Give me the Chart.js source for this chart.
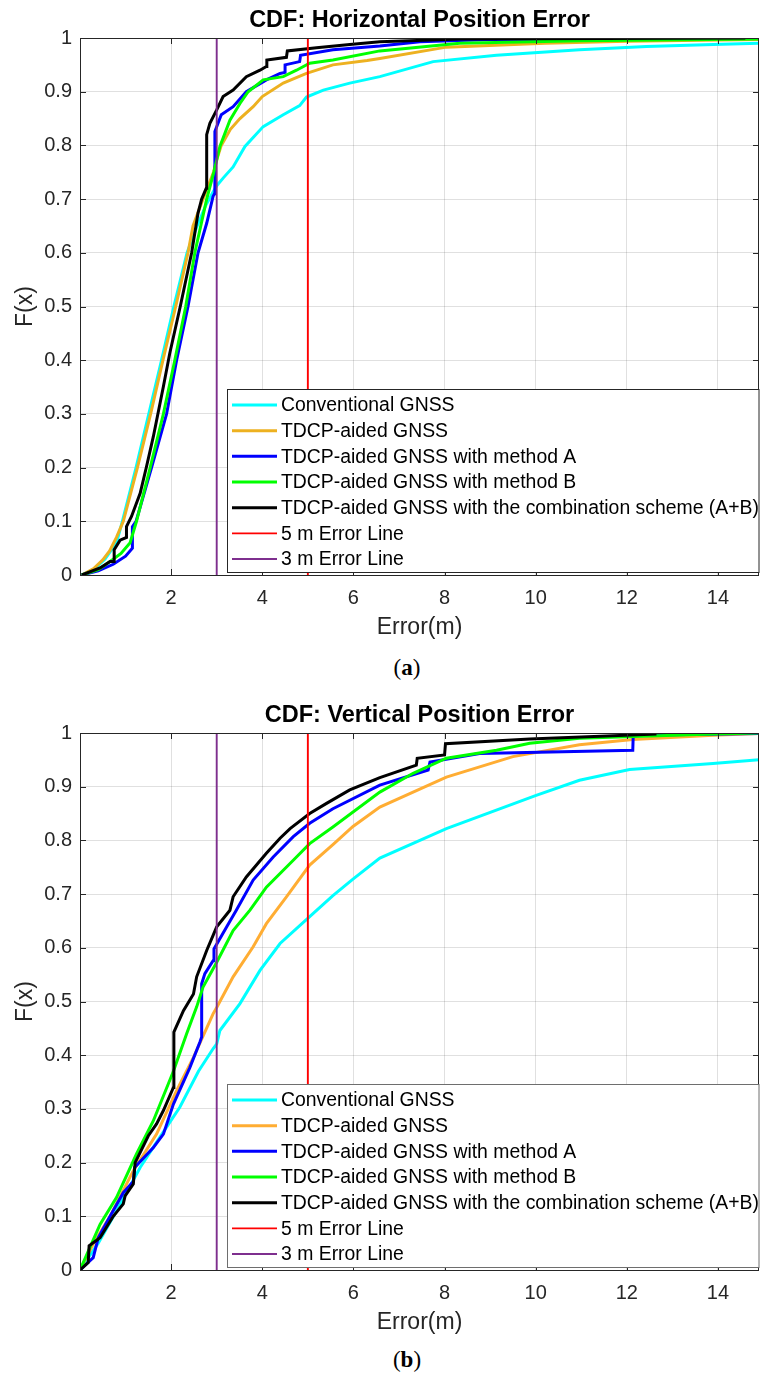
<!DOCTYPE html>
<html>
<head>
<meta charset="utf-8">
<script src="https://cdn.jsdelivr.net/npm/chart.js@4.4.0/dist/chart.umd.min.js"></script>
<style>
  html, body { margin: 0; padding: 0; background: #fff; }
  body { width: 760px; height: 1376px; position: relative; overflow: hidden; }
  .panel { position: absolute; left: 0; width: 760px; height: 650px; }
  .panel canvas { display: block; }
  .caption { position: absolute; left: 367px; width: 80px; text-align: center;
    font-family: "Liberation Serif", "DejaVu Serif", serif; font-size: 23px; line-height: 26px; color: #000; }
</style>
</head>
<body>
<div class="panel" style="top:0"><canvas id="chartH" width="760" height="650"></canvas></div>
<div class="caption" style="top:655px">(<b>a</b>)</div>
<div class="panel" style="top:695px"><canvas id="chartV" width="760" height="650"></canvas></div>
<div class="caption" style="top:1347px">(<b>b</b>)</div>
<script>
// legend text, in plotting order
const legendLabels = [
  "Conventional GNSS",
  "TDCP-aided GNSS",
  "TDCP-aided GNSS with method A",
  "TDCP-aided GNSS with method B",
  "TDCP-aided GNSS with the combination scheme (A+B)",
  "5 m Error Line",
  "3 m Error Line",
];
const errorLineX = [5, 3];
const xTickValues = [2, 4, 6, 8, 10, 12, 14];
const yTickValues = [0, 0.1, 0.2, 0.3, 0.4, 0.5, 0.6, 0.7, 0.8, 0.9, 1];
const xMax = 14.9;

// (a) horizontal error CDF, [error m, F(x)]
const hConventional = [[0.03,0],[0.3,0.01],[0.55,0.03],[0.8,0.06],[0.93,0.1],[1.23,0.2],[1.51,0.3],[1.79,0.4],[2.06,0.5],[2.35,0.6],[2.57,0.65],[2.77,0.69],[2.9,0.71],[3.0,0.725],[3.15,0.74],[3.36,0.76],[3.62,0.798],[4.02,0.835],[4.46,0.857],[4.82,0.874],[4.97,0.89],[5.34,0.903],[5.92,0.916],[6.58,0.928],[7.75,0.956],[9.14,0.968],[10.96,0.978],[12.43,0.984],[13.9,0.988],[14.9,0.99]];
const hTdcp = [[0.04,0],[0.3,0.012],[0.5,0.028],[0.65,0.045],[0.8,0.07],[0.95,0.1],[1.26,0.2],[1.55,0.3],[1.82,0.4],[2.1,0.5],[2.37,0.6],[2.48,0.65],[2.7,0.7],[2.93,0.75],[3.0,0.773],[3.1,0.8],[3.3,0.83],[3.51,0.85],[3.8,0.872],[4.0,0.891],[4.46,0.916],[4.97,0.934],[5.55,0.95],[6.3,0.958],[6.58,0.962],[8.04,0.983],[10.2,0.99],[12,0.994],[14.9,0.997]];
const hMethodA = [[0.04,0],[0.4,0.008],[0.73,0.02],[1.0,0.035],[1.15,0.05],[1.15,0.09],[1.23,0.1],[1.57,0.2],[1.9,0.3],[2.12,0.4],[2.37,0.5],[2.59,0.6],[2.78,0.655],[2.92,0.705],[2.95,0.71],[2.96,0.826],[3.1,0.857],[3.36,0.872],[3.65,0.9],[4.09,0.922],[4.39,0.934],[4.5,0.936],[4.5,0.95],[4.82,0.956],[4.84,0.968],[5.55,0.978],[6.58,0.985],[7.46,0.993],[9,0.997],[13.5,0.999]];
const hMethodB = [[0.04,0],[0.4,0.01],[0.66,0.025],[0.9,0.04],[1.1,0.06],[1.24,0.1],[1.54,0.2],[1.83,0.3],[2.08,0.4],[2.32,0.5],[2.52,0.6],[2.78,0.7],[2.94,0.751],[3.07,0.798],[3.29,0.847],[3.51,0.878],[3.69,0.9],[4.02,0.922],[4.46,0.928],[4.75,0.94],[5.04,0.953],[5.55,0.959],[6.58,0.976],[8.33,0.99],[10.96,0.995],[14.9,0.998]];
const hCombined = [[0.04,0],[0.44,0.013],[0.66,0.025],[0.75,0.025],[0.75,0.047],[0.88,0.065],[1.02,0.07],[1.02,0.09],[1.13,0.109],[1.32,0.152],[1.46,0.202],[1.61,0.258],[1.83,0.351],[1.97,0.413],[2.2,0.5],[2.45,0.6],[2.59,0.674],[2.67,0.7],[2.77,0.72],[2.78,0.82],[2.85,0.841],[3.0,0.866],[3.14,0.891],[3.36,0.903],[3.65,0.928],[3.95,0.94],[4.09,0.947],[4.1,0.959],[4.53,0.964],[4.55,0.976],[5.19,0.982],[5.92,0.988],[6.58,0.993],[8.33,0.998],[14.6,1.0]];

// (b) vertical error CDF
const vConventional = [[0,0],[0.4,0.05],[0.8,0.11],[1.32,0.191],[1.75,0.247],[2.19,0.303],[2.6,0.37],[2.92,0.412],[3.0,0.421],[3.07,0.446],[3.51,0.496],[3.95,0.558],[4.39,0.608],[5.04,0.658],[5.55,0.697],[5.99,0.728],[6.58,0.767],[8.04,0.822],[10.01,0.884],[10.96,0.912],[12.06,0.932],[13.89,0.943],[14.9,0.95]];
const vTdcp = [[0,0],[0.3,0.05],[0.66,0.1],[1.17,0.185],[1.68,0.253],[2.12,0.334],[2.49,0.396],[2.92,0.477],[3.0,0.489],[3.36,0.546],[3.8,0.602],[4.09,0.645],[4.53,0.695],[5.04,0.754],[5.55,0.792],[5.99,0.826],[6.58,0.862],[8.04,0.918],[9.5,0.956],[10.96,0.978],[12.13,0.988],[13.89,0.996],[14.9,0.999]];
const vMethodA = [[0,0],[0.29,0.023],[0.4,0.06],[0.66,0.1],[0.95,0.144],[1.17,0.165],[1.2,0.191],[1.61,0.228],[1.83,0.253],[2.05,0.309],[2.41,0.377],[2.63,0.424],[2.67,0.434],[2.67,0.533],[2.74,0.552],[2.92,0.576],[2.94,0.598],[3.22,0.639],[3.43,0.67],[3.8,0.726],[4.24,0.769],[4.68,0.807],[5.04,0.832],[5.55,0.859],[6.58,0.903],[7.64,0.931],[7.68,0.946],[8.77,0.962],[12.13,0.968],[12.14,0.996],[14.9,0.999]];
const vMethodB = [[0,0],[0.44,0.085],[0.8,0.135],[1.24,0.216],[1.61,0.278],[2.05,0.37],[2.34,0.44],[2.56,0.49],[2.7,0.527],[3.0,0.573],[3.36,0.632],[3.73,0.67],[4.09,0.713],[4.68,0.763],[5.04,0.794],[5.55,0.825],[6.58,0.89],[7.31,0.925],[8.04,0.953],[9.14,0.968],[9.87,0.981],[10.96,0.99],[13.89,0.998],[14.9,1.0]];
const vCombined = [[0,0],[0.18,0.014],[0.2,0.045],[0.44,0.06],[0.73,0.1],[0.95,0.123],[0.99,0.138],[1.17,0.16],[1.21,0.2],[1.5,0.25],[1.68,0.272],[1.83,0.297],[2.05,0.34],[2.06,0.443],[2.27,0.483],[2.49,0.514],[2.56,0.546],[2.78,0.595],[3.0,0.639],[3.29,0.67],[3.36,0.695],[3.65,0.732],[4.09,0.776],[4.39,0.804],[4.61,0.822],[5.04,0.85],[5.41,0.869],[5.92,0.894],[6.58,0.917],[7.38,0.94],[7.4,0.953],[8.0,0.959],[8.02,0.98],[9.87,0.989],[12.65,0.998]];

Chart.defaults.font.family = '"Liberation Sans", Arial, sans-serif';
Chart.defaults.color = "#262626";

const frameAndLegend = {
  id: "frameAndLegend",
  afterDatasetsDraw(chart, args, opts) {
    const { ctx, chartArea: a, scales: { x, y } } = chart;
    ctx.save();
    ctx.strokeStyle = "#262626";
    ctx.lineWidth = 1;
    ctx.beginPath();
    x.ticks.forEach((t) => {
      const px = Math.round(x.getPixelForValue(t.value)) + 0.5;
      ctx.moveTo(px, a.bottom); ctx.lineTo(px, a.bottom - 6);
      ctx.moveTo(px, a.top); ctx.lineTo(px, a.top + 6);
    });
    y.ticks.forEach((t) => {
      const py = Math.round(y.getPixelForValue(t.value)) + 0.5;
      ctx.moveTo(a.left, py); ctx.lineTo(a.left + 6, py);
      ctx.moveTo(a.right, py); ctx.lineTo(a.right - 6, py);
    });
    ctx.stroke();
    ctx.strokeRect(Math.round(a.left) + 0.5, Math.round(a.top) + 0.5,
      Math.round(a.right - a.left) - 1, Math.round(a.bottom - a.top));

    // legend box, lower right inside the axes
    const bx = 227.5, by = 389.5, bw = a.right - bx, bh = 183;
    ctx.fillStyle = "#fff";
    ctx.fillRect(bx, by, bw, bh);
    ctx.strokeStyle = opts.border;
    ctx.strokeRect(bx, by, bw, bh);
    ctx.font = '19.4px "Liberation Sans", Arial, sans-serif';
    ctx.textBaseline = "middle";
    ctx.fillStyle = "#000";
    chart.data.datasets.forEach((ds, i) => {
      const ry = 405 + i * 25.67;
      ctx.strokeStyle = ds.borderColor;
      ctx.lineWidth = ds.borderWidth;
      ctx.beginPath();
      ctx.moveTo(232, ry); ctx.lineTo(277, ry);
      ctx.stroke();
      ctx.fillText(ds.label, 281, ry + 1);
    });
    ctx.restore();
  },
};

function makeChart(id, title, curves, colors, legendBorder) {
  const datasets = curves.map((pts, i) => ({
    label: legendLabels[i],
    data: pts.map(([x, y]) => ({ x, y })),
    borderColor: colors[i],
    borderWidth: 3,
    order: 7 - i,
  }));
  errorLineX.forEach((ex, j) => {
    datasets.push({
      label: legendLabels[5 + j],
      data: [{ x: ex, y: 0 }, { x: ex, y: 1 }],
      borderColor: colors[5 + j],
      borderWidth: 1.9,
      order: 2 - j,
    });
  });

  return new Chart(document.getElementById(id), {
    type: "line",
    data: { datasets },
    options: {
      responsive: false,
      animation: false,
      parsing: false,
      elements: { point: { radius: 0 }, line: { tension: 0 } },
      layout: { padding: { top: 0, left: 0, right: 1, bottom: 0 } },
      plugins: {
        legend: { display: false },
        tooltip: { enabled: false },
        title: {
          display: true,
          text: title,
          fullSize: false,
          color: "#000",
          font: { size: 23.5, weight: "bold" },
          padding: { top: 6.9, bottom: 2.9 },
        },
        frameAndLegend: { border: legendBorder },
      },
      scales: {
        x: {
          type: "linear",
          min: 0,
          max: xMax,
          afterBuildTicks: (s) => { s.ticks = xTickValues.map((value) => ({ value })); },
          afterFit: (s) => { s.height = 75; },
          ticks: { font: { size: 20 }, padding: 11, maxRotation: 0, autoSkip: false },
          grid: { color: "rgba(38,38,38,0.14)", drawTicks: false },
          border: { display: false },
          title: { display: true, text: "Error(m)", font: { size: 23 }, padding: { top: 0, bottom: 8.2 } },
        },
        y: {
          type: "linear",
          min: 0,
          max: 1,
          afterBuildTicks: (s) => { s.ticks = yTickValues.map((value) => ({ value })); },
          afterFit: (s) => { s.width = 80; },
          ticks: { font: { size: 20 }, padding: 8, callback: (v) => String(+v.toFixed(1)) },
          grid: { color: "rgba(38,38,38,0.14)", drawTicks: false },
          border: { display: false },
          title: { display: true, text: "F(x)", font: { size: 23 }, padding: { top: 12.2, bottom: 0 } },
        },
      },
    },
    plugins: [frameAndLegend],
  });
}

makeChart("chartH", "CDF: Horizontal Position Error",
  [hConventional, hTdcp, hMethodA, hMethodB, hCombined],
  ["#00FFFF", "#EDB120", "#0000FF", "#00FF00", "#000000", "#FF0000", "#7E2F8E"], "#262626");
makeChart("chartV", "CDF: Vertical Position Error",
  [vConventional, vTdcp, vMethodA, vMethodB, vCombined],
  ["#00FFFF", "#FFAD33", "#0000FF", "#00FF00", "#000000", "#FF0000", "#7E2F8E"], "#6e6e6e");
</script>
</body>
</html>
